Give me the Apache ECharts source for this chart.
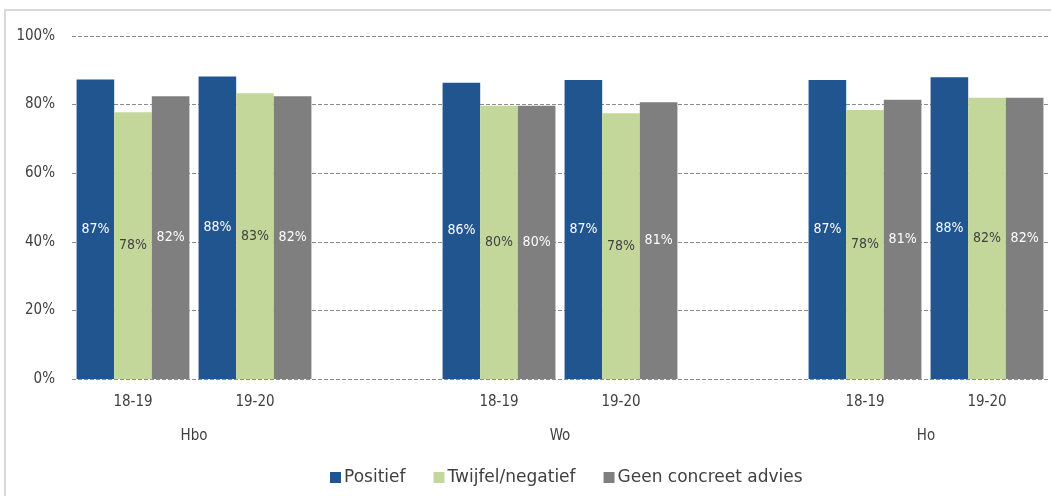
<!DOCTYPE html>
<html>
<head>
<meta charset="utf-8">
<script src="https://cdn.jsdelivr.net/npm/echarts@6/dist/echarts.min.js"></script>
<style>
html,body{margin:0;padding:0;background:#fff;}
#chart{width:1051px;height:496px;}
</style>
</head>
<body>
<div id="chart"></div>
<script>
// Data
var categories = ['18-19', '19-20', '', '18-19', '19-20', '', '18-19', '19-20'];
var groupNames = ['Hbo', 'Wo', 'Ho'];
var seriesNames = ['Positief', 'Twijfel/negatief', 'Geen concreet advies'];
var positief = [87.3, 88.2, null, 86.4, 87.2, null, 87.2, 88.0];
var twijfel  = [77.8, 83.3, null, 79.7, 77.5, null, 78.4, 82.0];
var geen     = [82.4, 82.4, null, 79.7, 80.7, null, 81.4, 82.0];
var yTicks = [0, 20, 40, 60, 80, 100];

// group label positions: midpoint of each non-empty run of categories
var groupPos = {};
(function () {
  var g = 0, start = null;
  for (var i = 0; i <= categories.length; i++) {
    var empty = (i === categories.length) || categories[i] === '';
    if (!empty && start === null) start = i;
    if (empty && start !== null) {
      groupPos[(start + i) / 2] = groupNames[g++];
      start = null;
    }
  }
})();

var FONT = 'DejaVu Sans Condensed';
var colors = ['#21558F', '#C4D79B', '#7F7F7F'];
var labelColors = ['#ffffff', '#404040', '#ffffff'];

var chart = echarts.init(document.getElementById('chart'));
var seriesData = [positief, twijfel, geen];
var series = seriesData.map(function (d, k) {
  return {
    name: seriesNames[k],
    type: 'bar',
    data: d,
    barGap: '0%',
    barCategoryGap: '7.5%',
    itemStyle: { color: colors[k] },
    label: {
      show: true,
      position: 'inside',
      color: labelColors[k],
      fontFamily: FONT,
      fontSize: 14,
      formatter: function (p) { return Math.round(p.value) + '%'; }
    },
    emphasis: { disabled: true }
  };
});

chart.setOption({
  animation: false,
  color: colors,
  graphic: [{
    type: 'rect',
    shape: { x: 5, y: 10, width: 1200, height: 600 },
    style: { fill: 'none', stroke: '#D9D9D9', lineWidth: 2 },
    silent: true
  }],
  grid: { left: 72, right: 2, top: 36, bottom: 117 },
  legend: {
    data: seriesNames,
    left: 325,
    top: 464,
    icon: 'rect',
    itemWidth: 11,
    itemHeight: 11,
    itemGap: 28,
    textStyle: { fontFamily: 'DejaVu Sans', fontSize: 17, color: '#404040', padding: [0, 0, 0, -2] }
  },
  xAxis: [{
    type: 'category',
    data: categories,
    axisLine: { show: false },
    axisTick: { show: false },
    axisLabel: { fontFamily: FONT, fontSize: 15, color: '#404040', margin: 16, interval: 0 },
    splitLine: { show: false }
  }, {
    type: 'value',
    position: 'bottom',
    min: 0,
    max: categories.length,
    interval: 1,
    offset: 34,
    axisLine: { show: false },
    axisTick: { show: false },
    splitLine: { show: false },
    axisLabel: {
      fontFamily: FONT, fontSize: 15, color: '#404040', margin: 16,
      showMinLabel: true, showMaxLabel: true,
      formatter: function (v) { return groupPos[v] || ''; }
    }
  }],
  yAxis: {
    type: 'value',
    min: yTicks[0],
    max: yTicks[yTicks.length - 1],
    interval: yTicks[1] - yTicks[0],
    axisLine: { show: false },
    axisTick: { show: false },
    axisLabel: { fontFamily: FONT, fontSize: 15, color: '#404040', margin: 17, formatter: '{value}%' },
    splitLine: { show: true, lineStyle: { type: [4, 2], color: '#8C8C8C', width: 1 } }
  },
  series: series
});
</script>
</body>
</html>
